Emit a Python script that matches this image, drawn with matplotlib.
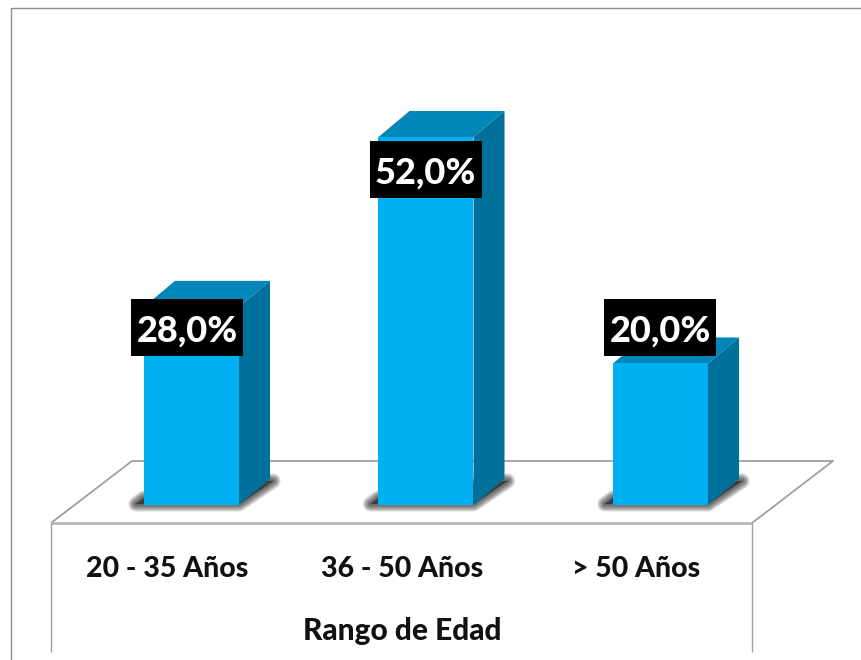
import matplotlib
matplotlib.use('Agg')
import matplotlib.pyplot as plt
from matplotlib.patches import Polygon, Rectangle

categories = ['20 - 35 Años', '36 - 50 Años', '> 50 Años']
percent = [28.0, 52.0, 20.0]
axis_title = 'Rango de Edad'

W, H = 862, 660
X0, X_STEP = 191.5, 234.5   # pixel x of first category, spacing
Y0, Y_STEP = 505.0, 7.077   # pixel y of 0 %, pixels per 1 %
BAR_PX = 95
DX, DY = 31, 26             # depth of the 3d box in pixels

GREY = '#a0a0a0'
FONT = 'Lato'


def px(x, y):
    # pixel position -> data position
    return (x - X0) / X_STEP, (Y0 - y) / Y_STEP


def to_px(cat, val):
    return X0 + cat * X_STEP, Y0 - val * Y_STEP


fig = plt.figure(figsize=(W / 100, H / 100), dpi=100)
ax = fig.add_axes([0, 0, 1, 1])
ax.set_xlim(px(0, 0)[0], px(W, 0)[0])
ax.set_ylim(px(0, H)[1], px(0, 0)[1])
ax.axis('off')


def poly(points, **kw):
    ax.add_patch(Polygon([px(*p) for p in points], closed=True, **kw))


def line(points, lw=1.2, color=GREY, z=1):
    pts = [px(*p) for p in points]
    ax.plot([p[0] for p in pts], [p[1] for p in pts], color=color, lw=lw, zorder=z,
            solid_capstyle='butt')


# outer frame
line([(10.5, 660), (10.5, 8), (862, 8)], lw=1.0, color='#909090')

# floor of the 3d chart
line([(51, 523), (132, 461), (833, 461), (752, 523)], lw=1.3)
line([(51, 523), (752, 523)], lw=1.8, color='#b0b0b0')
line([(51, 523), (51, 652)], lw=1.0)
line([(752, 523), (752, 652)], lw=1.0)

# value label boxes: centre x of the text, top of the black box
label_cx = [187, 425, 660]
label_top = [299, 141, 299]

for i, v in enumerate(percent):
    cx, top = to_px(i, v)
    left, right = cx - BAR_PX / 2, cx + BAR_PX / 2

    # soft shadow on the floor: stacked outlines of growing width
    shadow = [(left - 8, Y0 - 1), (right, Y0 - 1), (right + 34, Y0 - 24), (right + 26, Y0 - 24), (left, Y0 - 7)]
    for lw in range(14, 0, -1):
        poly(shadow, facecolor='#303030', edgecolor='#303030', lw=lw * 0.8, alpha=0.085,
             joinstyle='round', zorder=2)

    # box faces
    poly([(right, Y0), (right + DX, Y0 - DY), (right + DX, top - DY), (right, top)],
         facecolor='#00719b', edgecolor='none', zorder=3)
    poly([(left, top), (left + DX, top - DY), (right + DX, top - DY), (right, top)],
         facecolor='#0086b8', edgecolor='none', zorder=3)
    ax.bar(i, v, width=BAR_PX / X_STEP, color='#00b0f0', zorder=4)

    # value label on black box
    bx, by = px(label_cx[i] - 55.5, label_top[i] + 57)
    ax.add_patch(Rectangle((bx, by), 112 / X_STEP, 57 / Y_STEP, facecolor='black',
                           edgecolor='none', zorder=5))
    ax.text(*px(label_cx[i] + 0.5, label_top[i] + 43), f'{v:.1f}%'.replace('.', ','), color='white',
            fontsize=26, fontweight='black', family=FONT, ha='center', va='baseline', zorder=6)

    ax.text(*px(cx - 24, 577), categories[i], fontsize=20.5, fontweight='black', family=FONT,
            color='#111111', ha='center', va='baseline', zorder=6)

ax.text(*px(402, 640), axis_title, fontsize=21.5, fontweight='black', family=FONT,
        color='#111111', ha='center', va='baseline', zorder=6)

fig.savefig('out.png', dpi=100)
